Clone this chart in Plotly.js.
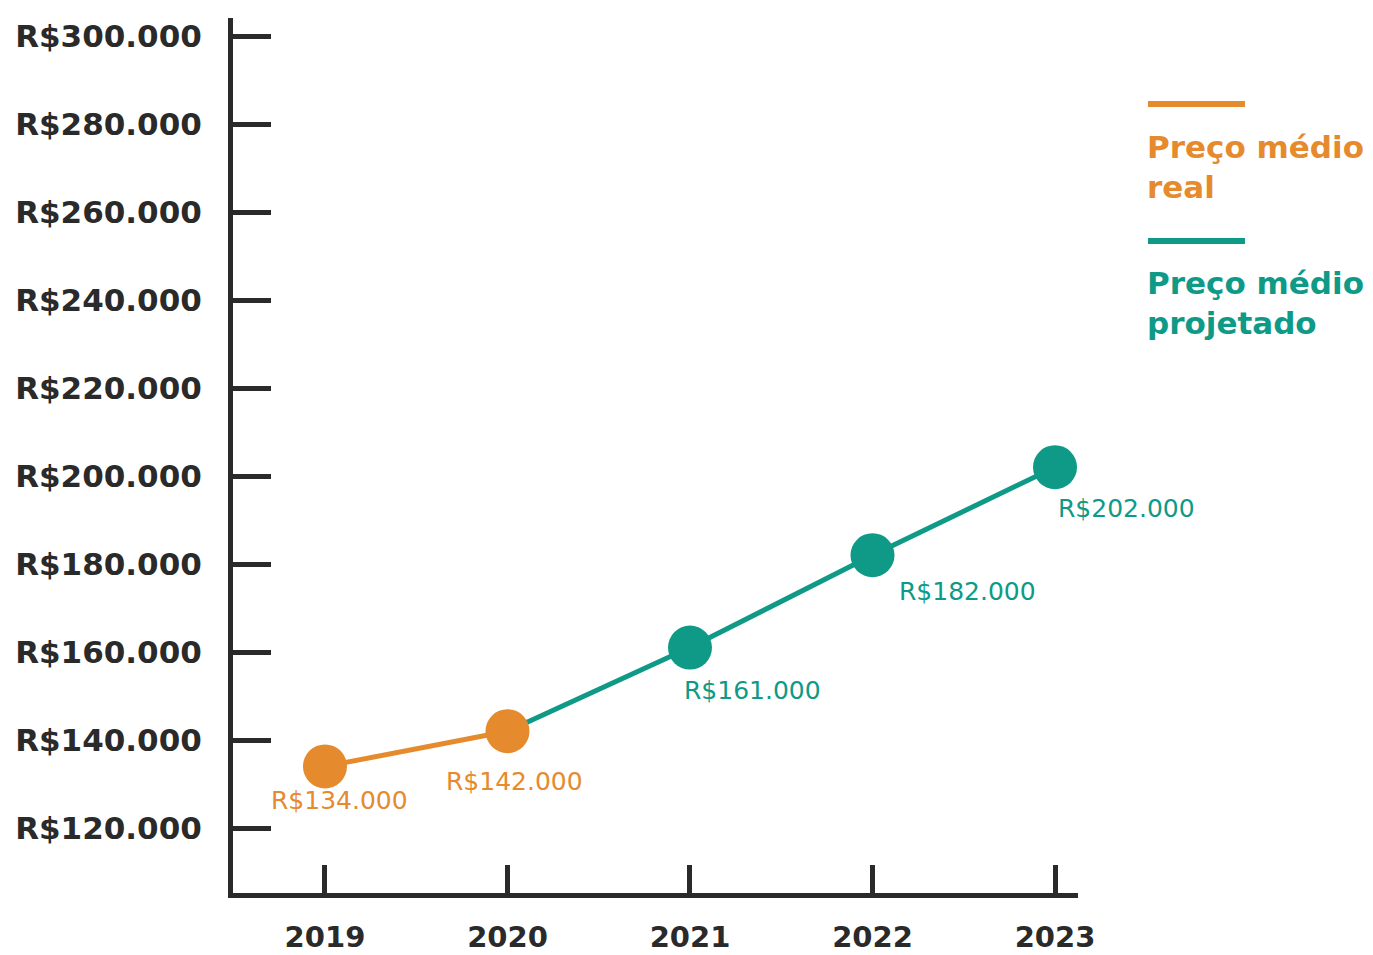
<!DOCTYPE html>
<html>
<head>
<meta charset="utf-8">
<script src="https://cdn.plot.ly/plotly-3.0.1.min.js"></script>
<style>html,body{margin:0;padding:0;background:#fff}#chart{width:1373px;height:955px}</style>
</head>
<body>
<div id="chart"></div>
<script>
// ---- data ----
const realYears = [2019, 2020];
const realValues = [134000, 142000];
const projYears = [2020, 2021, 2022, 2023];
const projValues = [142000, 161000, 182000, 202000];
const labelYears = [2019, 2020, 2021, 2022, 2023];
const labelValues = [134000, 142000, 161000, 182000, 202000];
const labelTexts = ["R$134.000", "R$142.000", "R$161.000", "R$182.000", "R$202.000"];
const yTickVals = [120000, 140000, 160000, 180000, 200000, 220000, 240000, 260000, 280000, 300000];
const yTickText = ["R$120.000", "R$140.000", "R$160.000", "R$180.000", "R$200.000", "R$220.000", "R$240.000", "R$260.000", "R$280.000", "R$300.000"];
const xTickVals = [2019, 2020, 2021, 2022, 2023];
const xTickText = ["2019", "2020", "2021", "2022", "2023"];
const legendNames = ["Preço médio<br>real", "Preço médio<br>projetado"];

// ---- style ----
const ORANGE = "#E68A2E";
const TEAL = "#0E9A87";
const DARK = "#2A2A2A";
const FONT = "DejaVu Sans";
const labelColors = [ORANGE, ORANGE, TEAL, TEAL, TEAL];
const labelShift = [[15, -34], [7, -50], [63, -43], [95, -36], [71, -41]];

const traces = [
  {x: projYears, y: projValues, mode: "lines", line: {color: TEAL, width: 5}, hoverinfo: "skip", showlegend: false},
  {x: projYears.slice(1), y: projValues.slice(1), mode: "markers", marker: {color: TEAL, size: 44}, showlegend: false},
  {x: realYears, y: realValues, mode: "lines+markers", line: {color: ORANGE, width: 5}, marker: {color: ORANGE, size: 44}, showlegend: false}
];

const annotations = labelYears.map((yr, i) => ({
  x: yr, y: labelValues[i], xref: "x", yref: "y",
  text: labelTexts[i], showarrow: false,
  xanchor: "center", yanchor: "middle",
  xshift: labelShift[i][0], yshift: labelShift[i][1],
  font: {family: FONT, size: 25, color: labelColors[i]}
}));

annotations.push(
  {xref: "paper", yref: "paper", x: 1.0792, y: 0.876, xanchor: "left", yanchor: "top", align: "left",
   text: legendNames[0], showarrow: false, font: {family: FONT, size: 31, color: ORANGE, weight: "bold"}},
  {xref: "paper", yref: "paper", x: 1.0792, y: 0.72, xanchor: "left", yanchor: "top", align: "left",
   text: legendNames[1], showarrow: false, font: {family: FONT, size: 31, color: TEAL, weight: "bold"}}
);

const shapes = [
  {type: "line", xref: "paper", yref: "paper", x0: 1.0828, x1: 1.1976, y0: 0.9017, y1: 0.9017, line: {color: ORANGE, width: 6}},
  {type: "line", xref: "paper", yref: "paper", x0: 1.0828, x1: 1.1976, y0: 0.7451, y1: 0.7451, line: {color: TEAL, width: 6}}
];

const layout = {
  width: 1373, height: 955,
  margin: {l: 233, r: 295, t: 18, b: 62},
  paper_bgcolor: "#fff", plot_bgcolor: "#fff",
  showlegend: false,
  xaxis: {
    range: [2018.496, 2023.126], tickvals: xTickVals, ticktext: xTickText,
    ticks: "inside", ticklen: 28, tickwidth: 5, tickcolor: DARK,
    showline: true, linewidth: 5, linecolor: DARK, showgrid: false, zeroline: false,
    tickfont: {family: FONT, size: 29, color: DARK, weight: "bold"}, ticklabelstandoff: 14
  },
  yaxis: {
    range: [105227, 304091], tickvals: yTickVals, ticktext: yTickText,
    ticks: "inside", ticklen: 38, tickwidth: 5, tickcolor: DARK,
    showline: true, linewidth: 5, linecolor: DARK, showgrid: false, zeroline: false,
    tickfont: {family: FONT, size: 31, color: DARK, weight: "bold"}, ticklabelstandoff: 20
  },
  annotations: annotations,
  shapes: shapes
};

Plotly.newPlot("chart", traces, layout, {displayModeBar: false, staticPlot: true});
</script>
</body>
</html>
